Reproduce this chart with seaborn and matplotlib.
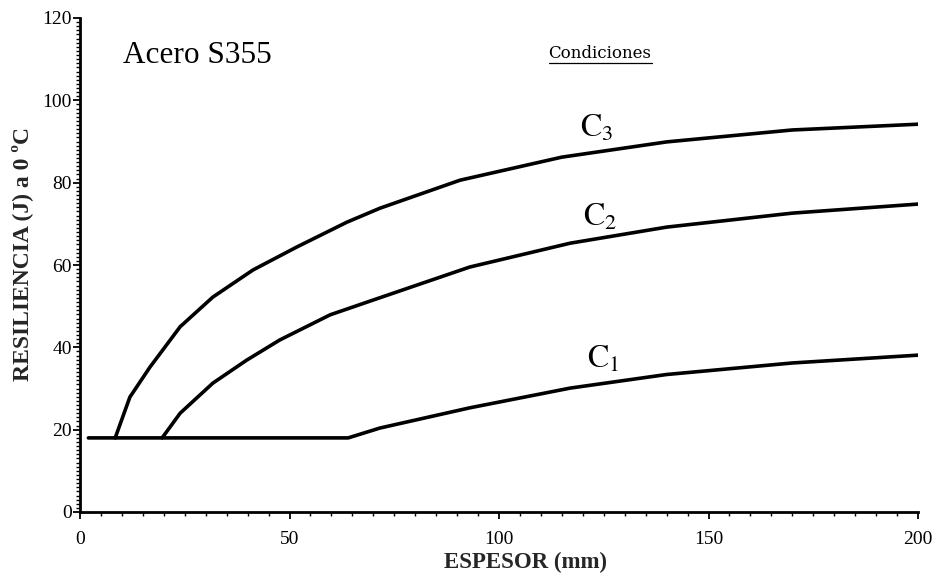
import matplotlib
matplotlib.use("Agg")
import matplotlib.pyplot as plt
from matplotlib.ticker import MultipleLocator
from matplotlib.lines import Line2D
import seaborn as sns
import pandas as pd

# ---- data ----
c1_x = [2, 64, 71.6, 93, 117, 140, 170, 200]
c1_y = [18, 18, 20.4, 25.3, 30.1, 33.4, 36.2, 38.1]
c2_x = [19.6, 23.9, 31.7, 39.8, 47.7, 59.7, 70, 93, 117, 140, 170, 200]
c2_y = [18, 24.0, 31.3, 36.9, 41.8, 47.9, 51.5, 59.5, 65.3, 69.2, 72.6, 74.8]
c3_x = [8.4, 11.9, 16.7, 23.9, 31.7, 41.3, 51.8, 63.7, 71.6, 90.7, 115, 140, 170, 200]
c3_y = [18, 27.9, 35.2, 45.0, 52.2, 58.8, 64.4, 70.4, 73.8, 80.6, 86.2, 89.9, 92.8, 94.2]
curve_names = ["C1", "C2", "C3"]
curve_labels = [r"$\mathrm{C_1}$", r"$\mathrm{C_2}$", r"$\mathrm{C_3}$"]
label_x = [124.8, 124.1, 123.4]
label_y = [37.0, 71.7, 93.3]
x_ticks = [0, 50, 100, 150, 200]
y_ticks = [0, 20, 40, 60, 80, 100, 120]

frames = []
for name, xs, ys in zip(curve_names, [c1_x, c2_x, c3_x], [c1_y, c2_y, c3_y]):
    frames.append(pd.DataFrame({"espesor": xs, "resiliencia": ys, "curva": name}))
df = pd.concat(frames, ignore_index=True)

sns.set_style("ticks")
plt.rcParams["font.family"] = ["Liberation Serif", "DejaVu Serif"]
plt.rcParams["mathtext.fontset"] = "stix"

fig = plt.figure(figsize=(9.4, 5.75), dpi=100)
ax = fig.add_axes([80 / 940, 63 / 575, 838 / 940, 494 / 575])

sns.lineplot(data=df, x="espesor", y="resiliencia", hue="curva",
             palette=["black"] * 3, estimator=None, sort=False,
             linewidth=2.6, legend=False, ax=ax)

ax.set_xlim(0, 200)
ax.set_ylim(0, 120)
ax.set_xticks(x_ticks)
ax.set_yticks(y_ticks)
ax.xaxis.set_minor_locator(MultipleLocator(5))
ax.yaxis.set_minor_locator(MultipleLocator(1))
ax.tick_params(axis="both", which="major", length=5, width=1.3, color="black",
               labelsize=14, labelcolor="black", direction="out", pad=1)
ax.tick_params(axis="x", which="major", pad=9)
ax.tick_params(axis="both", which="minor", length=3, width=1.0, color="black",
               direction="out")
for s in ["top", "right"]:
    ax.spines[s].set_visible(False)
for s in ["left", "bottom"]:
    ax.spines[s].set_linewidth(2.0)
    ax.spines[s].set_color("black")

ax.set_xlabel("ESPESOR (mm)", fontsize=16.5, fontweight="bold")
ax.set_ylabel("RESILIENCIA (J) a 0 ºC", fontsize=17, fontweight="bold")
ax.xaxis.set_label_coords((525 - 80) / 838, -(562 - 512) / 494)
ax.yaxis.set_label_coords(-(80 - 22) / 838, (512 - 254) / 494)
ax.xaxis.label.set_va("center")
ax.yaxis.label.set_va("center")

for lab, lx, ly in zip(curve_labels, label_x, label_y):
    ax.text(lx, ly, lab, fontsize=23, ha="center", va="center", color="black")

ax.text(10.3, 111.0, "Acero S355", fontsize=22.5, ha="left", va="center", color="black")
cond = ax.text((600 - 80) / 838, (512 - 53) / 494, "Condiciones", transform=ax.transAxes,
               fontsize=12, family=["DejaVu Serif"], ha="center", va="center",
               color="black")

fig.canvas.draw()
bb = cond.get_window_extent()
inv = fig.transFigure.inverted()
(x0, y0) = inv.transform((bb.x0, bb.y0 - 1))
(x1, _) = inv.transform((bb.x1, bb.y0 - 1))
fig.add_artist(Line2D([x0, x1], [y0, y0], transform=fig.transFigure,
                      color="black", linewidth=0.9))

fig.savefig("out.png", dpi=100)
